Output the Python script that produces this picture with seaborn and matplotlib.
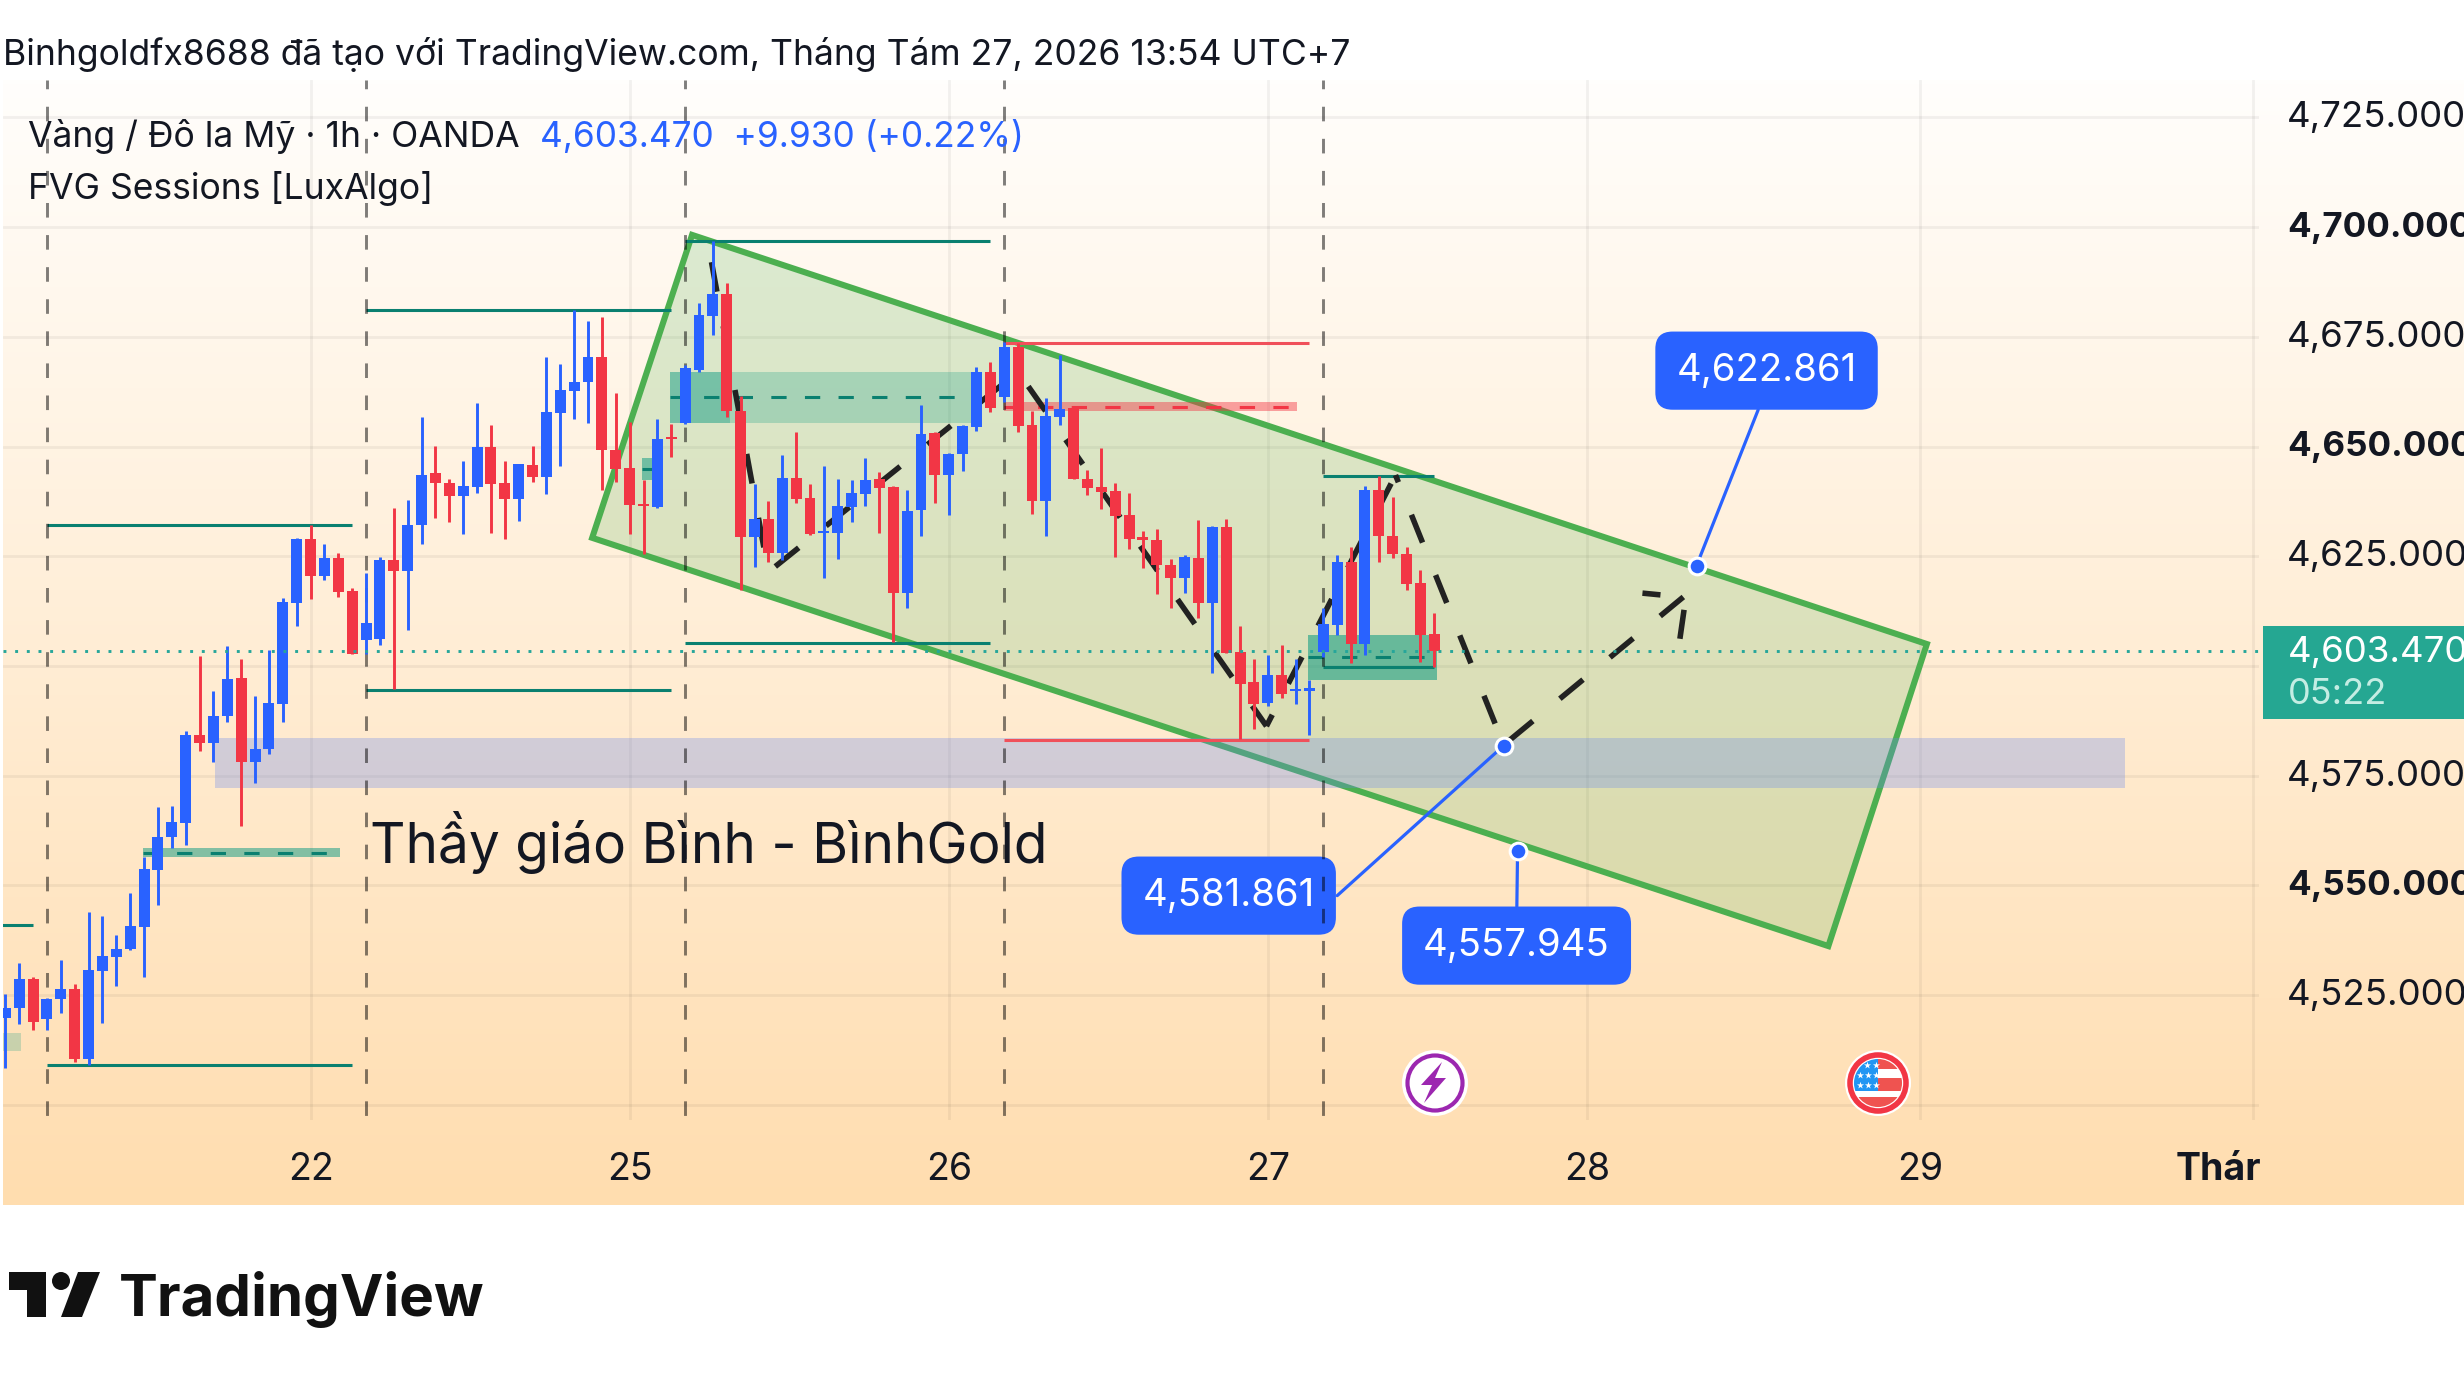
import numpy as np
import pandas as pd
import matplotlib.pyplot as plt
import seaborn as sns
from matplotlib.patches import Circle, Polygon, Rectangle
from matplotlib.transforms import ScaledTranslation

W, H = 2464, 1386
DPI = 200

# hourly candles
opens = [4519.9,4522.0,4528.6,4519.5,4524.1,4526.4,4510.5,4530.6,4533.8,4535.5,
         4540.6,4553.6,4561.0,4564.3,4584.2,4582.5,4588.5,4597.2,4578.1,4581.0,
         4591.4,4614.4,4628.9,4620.6,4624.6,4617.1,4605.9,4606.1,4624.1,4621.7,
         4632.1,4643.9,4641.8,4638.8,4640.8,4650.0,4641.6,4638.1,4645.9,4643.1,
         4657.7,4662.7,4664.7,4670.3,4649.3,4645.0,4637.0,4636.3,4652.1,4655.3,
         4667.4,4679.8,4684.7,4658.2,4629.4,4633.6,4625.8,4642.9,4638.2,4630.3,
         4630.4,4636.3,4639.2,4642.5,4640.8,4616.7,4635.5,4653.1,4643.6,4648.4,
         4654.5,4667.0,4661.3,4672.6,4654.8,4637.6,4656.8,4658.7,4642.7,4640.7,
         4639.8,4634.3,4629.3,4628.7,4623.1,4620.1,4624.7,4614.4,4631.6,4603.1,
         4596.3,4591.6,4597.9,4594.2,4594.4,4603.3,4609.4,4623.8,4605.1,4640.0,
         4629.7,4625.6,4618.8,4607.2]
highs = [4525.2,4532.3,4529.1,4524.3,4533.0,4527.5,4543.9,4543.0,4538.7,4548.2,
         4556.4,4567.8,4568.0,4585.1,4602.2,4594.2,4604.5,4601.5,4593.1,4603.6,
         4615.4,4629.2,4632.1,4627.8,4625.7,4617.8,4621.1,4624.8,4636.0,4637.8,
         4656.8,4650.2,4642.7,4646.6,4660.0,4654.8,4646.6,4646.1,4650.2,4670.3,
         4668.7,4681.0,4678.7,4679.6,4662.1,4655.5,4642.3,4656.2,4655.2,4668.5,
         4682.8,4696.9,4687.2,4661.6,4641.4,4637.7,4648.0,4653.4,4641.5,4645.5,
         4642.5,4642.3,4647.3,4644.1,4641.1,4640.2,4659.4,4653.3,4648.5,4655.0,
         4668.2,4669.2,4673.7,4673.5,4658.0,4661.0,4670.8,4658.9,4644.6,4649.6,
         4641.6,4639.3,4630.7,4631.1,4624.3,4625.2,4633.2,4632.0,4633.6,4609.2,
         4601.5,4602.4,4604.7,4601.7,4596.8,4613.3,4625.2,4627.0,4640.9,4643.2,
         4638.6,4627.2,4621.8,4612.0]
lows = [4508.5,4518.4,4517.0,4517.1,4521.0,4509.9,4509.2,4518.6,4527.0,4535.3,
        4529.2,4545.6,4558.5,4559.3,4580.7,4578.1,4587.3,4563.6,4573.4,4580.0,
        4587.3,4609.1,4615.3,4619.7,4615.7,4602.7,4602.7,4604.8,4594.7,4608.2,
        4627.8,4633.7,4632.8,4630.0,4639.5,4630.3,4629.0,4633.1,4642.0,4639.2,
        4645.6,4656.3,4655.4,4640.1,4642.0,4630.1,4625.4,4636.0,4647.5,4655.2,
        4667.0,4675.5,4656.8,4617.4,4622.6,4623.7,4624.1,4637.2,4629.8,4620.1,
        4624.4,4632.9,4636.5,4630.4,4605.5,4613.3,4629.7,4637.2,4634.5,4644.5,
        4653.6,4657.9,4660.2,4653.4,4634.7,4629.7,4655.0,4642.7,4639.0,4635.8,
        4624.9,4626.7,4622.4,4616.5,4613.3,4616.7,4611.0,4598.3,4603.0,4583.3,
        4585.7,4590.9,4592.8,4591.4,4584.3,4602.0,4607.0,4600.7,4602.6,4623.8,
        4624.7,4617.4,4601.0,4599.7]
closes = [4522.0,4528.6,4518.8,4524.1,4526.4,4510.5,4530.7,4533.9,4535.5,4540.7,
          4553.7,4561.0,4564.4,4584.2,4582.5,4588.5,4597.0,4578.1,4581.0,4591.5,
          4614.5,4628.9,4620.6,4624.6,4616.9,4602.7,4609.7,4624.1,4621.6,4632.2,
          4643.6,4641.7,4638.8,4640.9,4650.0,4641.5,4638.1,4646.0,4643.1,4657.8,
          4662.8,4664.8,4670.3,4649.3,4644.9,4636.7,4636.5,4651.8,4651.6,4667.8,
          4679.9,4684.7,4658.1,4629.4,4633.6,4625.8,4642.9,4638.1,4630.0,4630.7,
          4636.4,4639.3,4642.3,4640.6,4616.7,4635.4,4652.8,4643.6,4648.4,4654.6,
          4667.0,4658.8,4672.6,4654.7,4637.6,4656.9,4658.5,4642.7,4640.6,4639.7,
          4634.2,4629.0,4628.8,4623.0,4620.1,4624.9,4614.4,4631.6,4603.0,4596.0,
          4591.4,4597.9,4593.7,4594.7,4594.9,4609.5,4623.6,4605.1,4640.0,4629.7,
          4625.6,4618.7,4607.1,4603.47]

last_price = 4603.47

price_ticks = [4500, 4525, 4550, 4575, 4600, 4625, 4650, 4675, 4700, 4725]
price_labels = ['', '4,525.000', '4,550.000', '4,575.000', '', '4,625.000',
                '4,650.000', '4,675.000', '4,700.000', '4,725.000']
bold_prices = ['4,550.000', '4,650.000', '4,700.000']
day_ticks = [22, 45, 68, 91, 114, 138, 162]
day_labels = ['22', '25', '26', '27', '28', '29', 'Thár']

session_starts = [3, 26, 49, 72, 95]

# channel corners (bar, price)
channel_x = [49.5, 138.5, 131.4, 42.3]
channel_y = [4698.2, 4605.0, 4536.2, 4629.2]

# session high/low levels: x0, x1, price, colour
teal = '#0A8070'
red = '#F0505A'
levels = [(-1, 2, 4541.0, teal), (3, 25, 4509.1, teal), (3, 25, 4632.1, teal),
          (26, 48, 4681.1, teal), (26, 48, 4594.5, teal),
          (49, 71, 4696.9, teal), (49, 71, 4605.2, teal),
          (72, 94, 4673.6, red), (72, 94, 4583.1, red),
          (95, 103, 4643.3, teal), (95, 103, 4599.7, teal)]

# FVG boxes: x0, x1, low, high, colour, alpha, dashed mid line
teal_fill = '#089981'
red_fill = '#F23645'
fvg_boxes = [(-1, 1.15, 4512.3, 4516.4, teal_fill, 0.22, False),
             (9.9, 24.1, 4556.5, 4558.5, teal_fill, 0.5, True),
             (47.9, 69.6, 4655.4, 4667.0, teal_fill, 0.25, True),
             (47.9, 52.2, 4655.4, 4667.0, teal_fill, 0.3, False),
             (45.9, 47.0, 4642.4, 4647.4, teal_fill, 0.5, True),
             (72, 93.1, 4658.1, 4660.1, red_fill, 0.45, True),
             (93.9, 103.2, 4596.8, 4607.1, teal_fill, 0.55, True)]

zone_x = [15.1, 152.8]
zone_low, zone_high = 4572.1, 4583.6

# projected path drawn over the chart
path_x = [50.9, 55.0, 73.0, 90.9, 100.2, 108.0, 121.4]
path_y = [4692.0, 4621.4, 4667.0, 4586.3, 4643.5, 4582.0, 4616.9]
path_phase = [0, 10.1, 8.5, 3.1, 4.0, 10.3]
barbs = [([118.0, 119.3], [4616.6, 4616.2]), ([121.0, 120.7], [4612.8, 4606.2])]

# callouts: dot bar, dot price, text, label offset in px, line start on the box
callouts = [(121.9, 4622.861, '4,622.861', (70, 195), (0.5, 0.0)),
            (108.0, 4581.861, '4,581.861', (-275, -150), (1.13, 0.5)),
            (109.0, 4557.945, '4,557.945', (-1, -95), (0.5, 1.0))]

blue = '#2962FF'
cand_red = '#F23645'
ink = '#131722'


def px_axes(fig, x0, y0, x1, y1):
    return fig.add_axes([x0 / W, 1 - y1 / H, (x1 - x0) / W, (y1 - y0) / H])


sns.set_theme(style='white')
plt.rcParams['font.family'] = ['Inter', 'DejaVu Sans']

fig = plt.figure(figsize=(W / DPI, H / DPI), dpi=DPI, facecolor='white')

# background gradient of the pane
bg = px_axes(fig, 3, 80, W, 1205)
top_col = np.array([255, 254, 252]) / 255
bot_col = np.array([255, 221, 175]) / 255
ramp = np.linspace(0, 1, 256)[:, None, None]
bg.imshow(top_col + ramp * (bot_col - top_col), aspect='auto')
bg.axis('off')

ax = px_axes(fig, 3, 80, 2259, 1120)
ax.set_facecolor('none')

df = pd.DataFrame({'bar': np.arange(len(opens)), 'open': opens, 'high': highs,
                   'low': lows, 'close': closes})
df['up'] = df['close'] >= df['open']
df['bottom'] = df[['open', 'close']].min(axis=1)
df['body'] = (df['close'] - df['open']).abs().clip(lower=0.4)

ax.fill(channel_x, channel_y, color='#4CAF50', alpha=0.2, lw=0, zorder=2)
ax.fill(channel_x, channel_y, fc='none', ec='#4CAF50', lw=2.2, zorder=3, joinstyle='miter')
ax.fill_between(zone_x, zone_low, zone_high, color='#6988EE', alpha=0.3, lw=0, zorder=3.5)

for x0, x1, lo, hi, col, alpha, mid in fvg_boxes:
    ax.fill_between([x0, x1], lo, hi, color=col, alpha=alpha, lw=0, zorder=4)
    if mid:
        ax.plot([x0, x1], [(lo + hi) / 2] * 2, color=teal if col == teal_fill else cand_red,
                lw=1.1, ls=(0, (5, 6)), zorder=4.5, dash_capstyle='butt')

for x in session_starts:
    ax.plot([x, x], [4733.49, 4497.5], color='black', alpha=0.5, lw=1.05,
            ls=(2, (5, 6)), dash_capstyle='butt', zorder=5.5)

for x0, x1, y, col in levels:
    ax.plot([x0, x1], [y, y], color=col, lw=1.1, zorder=5, solid_capstyle='butt')

# projected move, one leg at a time so the dashes sit where they do on the chart
for k, phase in enumerate(path_phase):
    sns.lineplot(x=path_x[k:k + 2], y=path_y[k:k + 2], sort=False, estimator=None, ax=ax,
                 color='#222222', lw=2.0, linestyle=(phase, (5.4, 6.3)), zorder=6, dash_capstyle='butt')
for bx, by in barbs:
    ax.plot(bx, by, color='#222222', lw=2.0, zorder=6, solid_capstyle='butt')

# candles
ax.vlines(df['bar'][df['up']], df['low'][df['up']], df['high'][df['up']], colors=blue, lw=1.05, zorder=7)
ax.vlines(df['bar'][~df['up']], df['low'][~df['up']], df['high'][~df['up']], colors=cand_red, lw=1.05, zorder=7)
for is_up, col in [(True, blue), (False, cand_red)]:
    sub = df[df['up'] == is_up]
    sns.barplot(data=sub, x='bar', y='body', bottom=sub['bottom'].values, native_scale=True,
                color=col, saturation=1, width=0.79, errorbar=None, linewidth=0, zorder=8, ax=ax)

ax.axhline(last_price, color='#26A69A', lw=1.05, ls=(0, (1, 3)), zorder=9, dash_capstyle='butt')

# blue callouts
for bar, price, label, offset, rel in callouts:
    ax.annotate(label, xy=(bar, price), xytext=offset, textcoords='offset pixels',
                ha='center', va='center', color='white', fontsize=13.8, zorder=4.8,
                bbox=dict(boxstyle='round,pad=0.55,rounding_size=0.45', fc=blue, ec='none'),
                arrowprops=dict(arrowstyle='-', color=blue, lw=1.15, shrinkA=0, shrinkB=0, relpos=rel))
dots = pd.DataFrame({'bar': [c[0] for c in callouts], 'price': [c[1] for c in callouts]})
sns.scatterplot(data=dots, x='bar', y='price', s=36, color=blue, edgecolor='white', linewidth=1.1,
                zorder=10, ax=ax, clip_on=False)

ax.text(26.3, 4559.7, 'Thầy giáo Bình - BìnhGold', fontsize=19.8, color=ink, va='center', zorder=10)

ax.set_xlim(-0.166, 162.44)
ax.set_ylim(4496.58, 4733.49)
ax.set_xlabel('')
ax.set_ylabel('')
ax.set_yticks(price_ticks, price_labels)
ax.yaxis.tick_right()
ax.set_xticks(day_ticks, day_labels)
ax.grid(True, color='black', alpha=0.05, lw=1.0)
ax.set_axisbelow(True)
ax.tick_params(axis='y', length=0, pad=10.0, labelsize=13.2, labelcolor=ink)
ax.tick_params(axis='x', length=0, pad=11.5, labelsize=13.5, labelcolor=ink)
for lab in ax.get_yticklabels():
    if lab.get_text() in bold_prices:
        lab.set_fontweight('bold')
        lab.set_fontsize(12.6)
    lab.set_transform(lab.get_transform() + ScaledTranslation(0, 3 / DPI, fig.dpi_scale_trans))
thar = ax.get_xticklabels()[-1]
thar.set_fontweight('bold')
thar.set_ha('right')
thar.set_transform(thar.get_transform() + ScaledTranslation(8 / DPI, 0, fig.dpi_scale_trans))
sns.despine(ax=ax, left=True, bottom=True, right=True, top=True)

# furniture in image pixels
over = fig.add_axes([0, 0, 1, 1], zorder=20)
over.set_xlim(0, W)
over.set_ylim(H, 0)
over.axis('off')

over.text(3, 55, 'Binhgoldfx8688 đã tạo với TradingView.com, Tháng Tám 27, 2026 13:54 UTC+7',
          fontsize=12.8, color=ink, va='center')
over.text(28, 137, 'Vàng / Đô la Mỹ · 1h · OANDA', fontsize=12.8, color=ink, va='center')
over.text(540, 137, '4,603.470  +9.930 (+0.22%)', fontsize=12.7, color=blue, va='center')
over.text(28, 189, 'FVG Sessions [LuxAlgo]', fontsize=12.8, color=ink, va='center')

# price tag
over.add_patch(Rectangle((2263, 626), 201, 93, fc='#25A792', ec='none'))
over.text(2288, 653, '4,603.470', fontsize=13.2, color='white', va='center')
over.text(2288, 695, '05:22', fontsize=13.0, color='#C4EDE3', va='center')

# bolt icon
over.add_patch(Circle((1435, 1083), 33, fc='white', ec='none'))
over.add_patch(Circle((1435, 1083), 27.5, fc='white', ec='#9C27B0', lw=1.5))
bolt = [(1442, 1062), (1421, 1085), (1432, 1085), (1424, 1103), (1446, 1078), (1435, 1078)]
over.add_patch(Polygon(bolt, fc='#9C27B0', ec='none'))

# flag icon
fx, fy = 1878, 1083
over.add_patch(Circle((fx, fy), 33, fc='white', ec='none'))
clip = Circle((fx, fy), 24, transform=over.transData)
for y0, h0, col in [(fy - 24, 10, '#EF5350'), (fy - 5, 13, '#EF5350'), (fy + 14, 10, '#EF5350')]:
    r = Rectangle((fx, y0), 26, h0, fc=col, ec='none')
    over.add_patch(r)
    r.set_clip_path(clip)
r = Rectangle((fx - 24, fy + 14), 24, 10, fc='#EF5350', ec='none')
over.add_patch(r)
r.set_clip_path(clip)
r = Rectangle((fx - 25, fy - 25), 25, 33, fc='#2196F3', ec='none')
over.add_patch(r)
r.set_clip_path(clip)
over.scatter([fx - 11, fx - 2, fx - 18, fx - 10, fx - 2, fx - 18, fx - 10, fx - 2],
             [fy - 18, fy - 18, fy - 8, fy - 8, fy - 8, fy + 2, fy + 2, fy + 2],
             marker='*', s=7, color='white', lw=0, zorder=5)
over.add_patch(Circle((fx, fy), 28, fc='none', ec='#F23645', lw=2.0, zorder=6))

# logo
logo = '#111111'
over.add_patch(Polygon([(9, 1272), (46, 1272), (46, 1317), (27, 1317), (27, 1290), (9, 1290)], fc=logo, ec='none'))
over.add_patch(Circle((61, 1281), 9, fc=logo, ec='none'))
over.add_patch(Polygon([(78, 1272), (100, 1272), (82, 1317), (61, 1317)], fc=logo, ec='none'))
over.text(119, 1300, 'TradingView', fontsize=21, fontweight='bold', color=logo, va='center')

fig.savefig('out.png', dpi=DPI, facecolor='white')
